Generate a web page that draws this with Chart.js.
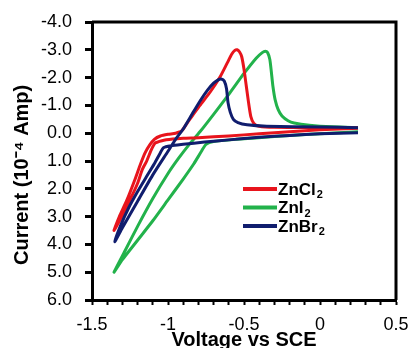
<!DOCTYPE html>
<html>
<head>
<meta charset="utf-8">
<script src="https://cdn.jsdelivr.net/npm/chart.js@4.4.0/dist/chart.umd.min.js"></script>
<style>
html, body { margin: 0; padding: 0; background: #fff; }
canvas { display: block; }
</style>
</head>
<body>
<canvas id="cv" width="412" height="348"></canvas>
<script>
// Voltamogramas (V vs SCE, corriente en 10^-4 A)
const seriesLabels = ['ZnCl₂', 'ZnI₂', 'ZnBr₂'];
const seriesColors = ['#e8141c', '#22b24b', '#101d6e'];

const clVoltage = [0.25, 0.0, -0.2, -0.4, -0.6, -0.8, -0.9, -0.97, -1.04, -1.085, -1.11, -1.14, -1.17, -1.2, -1.25, -1.3, -1.355,
  -1.32, -1.27, -1.22, -1.18, -1.15, -1.12, -1.09, -1.05, -1.0, -0.95, -0.91, -0.87, -0.83, -0.79, -0.72, -0.66, -0.61, -0.58,
  -0.56, -0.545, -0.53, -0.515, -0.5, -0.485, -0.47, -0.455, -0.435, -0.4, -0.3, 0.0, 0.25];
const clCurrent = [-0.18, -0.12, -0.05, 0.02, 0.1, 0.16, 0.18, 0.21, 0.27, 0.36, 0.6, 1.0, 1.32, 1.8, 2.4, 2.95, 3.5,
  3.0, 2.4, 1.7, 1.1, 0.7, 0.42, 0.22, 0.1, 0.04, 0.0, -0.08, -0.4, -0.7, -1.0, -1.5, -2.0, -2.53, -2.85,
  -2.98, -3.0, -2.93, -2.75, -2.3, -1.7, -1.1, -0.6, -0.35, -0.25, -0.21, -0.2, -0.2];

const iVoltage = [0.25, 0.0, -0.3, -0.55, -0.7, -0.75, -0.78, -0.83, -0.9, -1.0, -1.1, -1.2, -1.3, -1.355,
  -1.28, -1.2, -1.1, -1.0, -0.93, -0.86, -0.79, -0.7, -0.6, -0.5, -0.42, -0.38, -0.36, -0.345, -0.33, -0.32,
  -0.31, -0.295, -0.275, -0.25, -0.21, -0.17, -0.07, 0.08, 0.25];
const iCurrent = [-0.05, 0.02, 0.12, 0.22, 0.3, 0.4, 0.65, 1.1, 1.65, 2.4, 3.15, 3.85, 4.55, 5.0,
  4.2, 3.35, 2.35, 1.45, 0.9, 0.4, -0.05, -0.68, -1.4, -2.15, -2.7, -2.9, -2.95, -2.9, -2.65, -2.2,
  -1.7, -1.2, -0.85, -0.62, -0.45, -0.37, -0.29, -0.23, -0.2];

const brVoltage = [0.25, 0.0, -0.2, -0.4, -0.6, -0.76, -0.9, -0.98, -1.03, -1.05, -1.09, -1.14, -1.2, -1.26, -1.31, -1.35,
  -1.3, -1.2, -1.1, -1.0, -0.95, -0.9, -0.84, -0.79, -0.74, -0.7, -0.67, -0.65, -0.63, -0.615, -0.605, -0.59,
  -0.57, -0.54, -0.48, -0.35, 0.0, 0.25];
const brCurrent = [-0.02, 0.02, 0.08, 0.15, 0.24, 0.32, 0.4, 0.45, 0.52, 0.7, 1.1, 1.55, 2.1, 2.7, 3.3, 3.9,
  3.4, 2.45, 1.5, 0.65, 0.22, -0.15, -0.7, -1.15, -1.55, -1.8, -1.92, -1.95, -1.88, -1.6, -1.1, -0.75,
  -0.5, -0.38, -0.3, -0.25, -0.22, -0.2];

const FONT = '"Liberation Sans", Arial, sans-serif';

function toPoints(xs, ys) {
  return xs.map((x, i) => ({ x: x, y: ys[i] }));
}

// marco superior y derecho del área de trazado
const framePlugin = {
  id: 'frame',
  afterDraw(chart) {
    const { ctx, chartArea: a } = chart;
    ctx.save();
    ctx.strokeStyle = '#000';
    ctx.lineWidth = 3;
    ctx.beginPath();
    ctx.moveTo(a.left, a.top);
    ctx.lineTo(a.right, a.top);
    ctx.lineTo(a.right, a.bottom);
    ctx.stroke();
    ctx.restore();
  }
};

// leyenda dentro del gráfico, con el "2" como subíndice
const insideLegend = {
  id: 'insideLegend',
  afterDatasetsDraw(chart) {
    const { ctx } = chart;
    const x0 = 243, y0 = 189, gap = 18.5;
    ctx.save();
    chart.data.datasets.forEach((ds, i) => {
      const y = y0 + i * gap;
      ctx.strokeStyle = ds.borderColor;
      ctx.lineWidth = 4;
      ctx.beginPath();
      ctx.moveTo(x0, y);
      ctx.lineTo(x0 + 34, y);
      ctx.stroke();
      const base = ds.label.replace('₂', '');
      ctx.fillStyle = '#000';
      ctx.textBaseline = 'middle';
      ctx.font = 'bold 17px ' + FONT;
      ctx.fillText(base, x0 + 35, y + 1);
      const w = ctx.measureText(base).width;
      ctx.font = 'bold 11px ' + FONT;
      ctx.fillText('2', x0 + 36 + w, y + 6);
    });
    ctx.restore();
  }
};

const datasets = [
  { label: seriesLabels[0], data: toPoints(clVoltage, clCurrent), borderColor: seriesColors[0], order: 1 },
  { label: seriesLabels[1], data: toPoints(iVoltage, iCurrent), borderColor: seriesColors[1], order: 2 },
  { label: seriesLabels[2], data: toPoints(brVoltage, brCurrent), borderColor: seriesColors[2], order: 0 }
];

new Chart(document.getElementById('cv'), {
  type: 'scatter',
  data: { datasets: datasets },
  options: {
    responsive: false,
    animation: false,
    devicePixelRatio: 1,
    layout: { padding: { left: 0, top: 22, right: 16, bottom: 0 } },
    elements: {
      point: { radius: 0, hoverRadius: 0 },
      line: { borderWidth: 3, tension: 0.2, fill: false }
    },
    datasets: { scatter: { showLine: true } },
    plugins: {
      legend: { display: false },
      tooltip: { enabled: false }
    },
    scales: {
      x: {
        type: 'linear',
        min: -1.5,
        max: 0.5,
        afterFit: (s) => { s.height = 48; s.paddingLeft = 0; s.paddingRight = 0; },
        border: { color: '#000', width: 3 },
        grid: { drawOnChartArea: false, drawTicks: true, tickLength: 5, tickWidth: 2, tickColor: '#000' },
        ticks: {
          stepSize: 0.1,
          autoSkip: false,
          maxRotation: 0,
          padding: 9,
          color: '#000',
          font: { family: FONT, size: 18 },
          callback: (v) => {
            if (Math.abs(v * 2 - Math.round(v * 2)) > 1e-6) return '';
            return String(Math.round(v * 10) / 10);
          }
        },
        title: {
          display: true,
          text: 'Voltage vs SCE',
          color: '#000',
          font: { family: FONT, size: 20, weight: 'bold' },
          padding: { top: 0, bottom: -4 }
        }
      },
      y: {
        type: 'linear',
        reverse: true,
        min: -4,
        max: 6,
        afterFit: (s) => { s.width = 92; s.paddingTop = 0; s.paddingBottom = 0; },
        border: { color: '#000', width: 3 },
        grid: { drawOnChartArea: false, drawTicks: true, tickLength: 7, tickWidth: 3, tickColor: '#000' },
        ticks: {
          stepSize: 1,
          padding: 13,
          color: '#000',
          font: { family: FONT, size: 18 },
          callback: (v) => v.toFixed(1)
        },
        title: {
          display: true,
          text: 'Current (10⁻⁴ Amp)     ',
          color: '#000',
          font: { family: FONT, size: 20, weight: 'bold' },
          padding: { top: 10, bottom: 0 }
        }
      }
    }
  },
  plugins: [framePlugin, insideLegend]
});
</script>
</body>
</html>
